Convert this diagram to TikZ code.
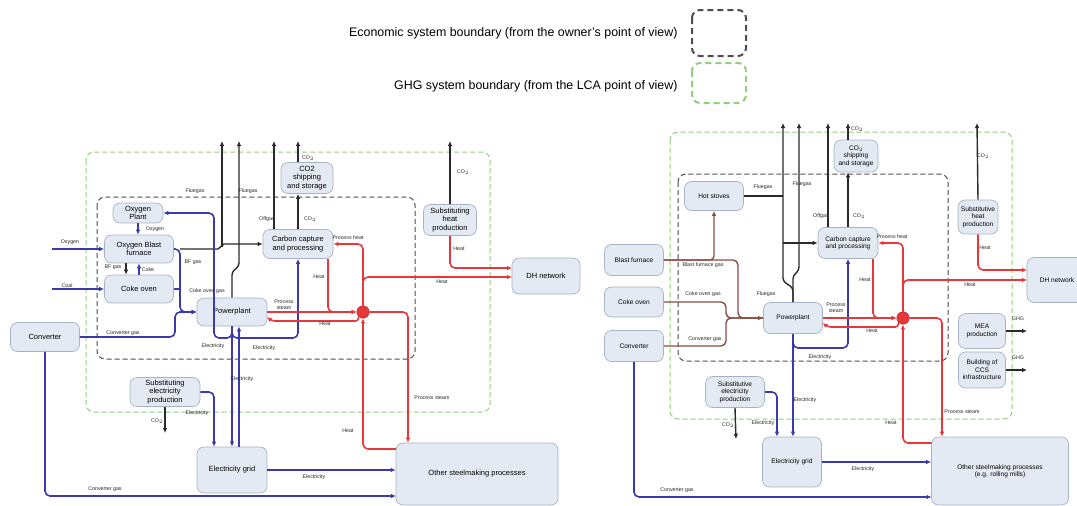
\documentclass[tikz,border=0pt]{standalone}
\usepackage{fontspec}
\setmainfont{Liberation Sans}
\usetikzlibrary{arrows.meta,positioning}

\definecolor{nodefill}{HTML}{E4EAF3}
\definecolor{nodeline}{HTML}{A8B3C3}
\definecolor{elblue}{HTML}{3A3AAE}
\definecolor{heatred}{HTML}{E8373A}
\definecolor{gasbrown}{HTML}{8A4B40}
\definecolor{ghggreen}{HTML}{8FD07A}
\definecolor{ecogray}{HTML}{4D4D4D}
\definecolor{gasblack}{HTML}{2A2A2A}

\newcommand{\boxfontL}{\fontsize{7.5}{8.3}\selectfont}
\newcommand{\boxfontR}{\fontsize{6.6}{7.4}\selectfont}
\newcommand{\lblfont}{\fontsize{5.3}{6}\selectfont}
\newcommand{\legfont}{\fontsize{12.4}{14}\selectfont}

\begin{document}
\begin{tikzpicture}[x=1pt,y=-1pt,>={Latex[length=5pt,width=4.6pt]}]
    % styles
    \tikzset{
        plant/.style={draw=nodeline, fill=nodefill, rounded corners=7pt, align=center, inner sep=1pt, line width=0.7pt},
        plantL/.style={plant, font=\boxfontL},
        plantR/.style={plant, font=\boxfontR},
        lbl/.style={font=\lblfont, inner sep=0pt, align=center, text=black!85},
        junction/.style={circle, fill=heatred, draw=heatred!70!black, minimum size=12.5pt, inner sep=0pt},
        elec/.style={draw=elblue, line width=1.6pt},
        heat/.style={draw=heatred, line width=1.6pt},
        flue/.style={draw=gasblack, line width=1.4pt},
        bfgas/.style={draw=gasbrown, line width=1.4pt},
        ecobound/.style={draw=ecogray, dash pattern=on 5pt off 3pt, line width=1pt, rounded corners=8pt},
        ghgbound/.style={draw=ghggreen, dash pattern=on 5pt off 3pt, line width=1pt, rounded corners=8pt},
    }

    \useasboundingbox (0,0) rectangle (1077,506);

    % legend
    \node[font=\legfont, anchor=east] (legeco) at (681,33) {Economic system boundary (from the owner's point of view)};
    \node[font=\legfont, anchor=east] (legghg) at (681,86) {GHG system boundary (from the LCA point of view)};
    \draw[ecobound, line width=2pt, dash pattern=on 6pt off 4pt] (692,10) rectangle (746,56);
    \draw[ghgbound, line width=2pt, dash pattern=on 6pt off 4pt] (692,63) rectangle (746,103);

    % stack outlets at the top
    \foreach \n/\x in {L1/222, L2/239, L3/274, L4/298, L5/450}
        \coordinate (out\n) at (\x,141);
    \foreach \n/\x in {R1/783, R2/799, R3/828, R4/848, R5/977}
        \coordinate (out\n) at (\x,123);

    %%%%%%%%%%%%%%%% left: oxygen blast furnace case %%%%%%%%%%%%%%%%
    \draw[ghgbound] (86,152) rectangle (490,412);
    \draw[ecobound] (97,197) rectangle (415,359);

    \node[plantL, minimum width=50pt, minimum height=20pt] (oxp) at (138,213) {Oxygen\\Plant};
    \node[plantL, minimum width=69pt, minimum height=28pt] (obf) at (139,249) {Oxygen Blast\\furnace};
    \node[plantL, minimum width=69pt, minimum height=28pt] (coke) at (139,289) {Coke oven};
    \node[plantL, minimum width=69pt, minimum height=29pt] (conv) at (45,337) {Converter};
    \node[plantL, minimum width=70pt, minimum height=28pt] (pp) at (232,312) {Powerplant};
    \node[plantL, minimum width=70pt, minimum height=29pt] (ccp) at (298,244) {Carbon capture\\and processing};
    \node[plantL, minimum width=52pt, minimum height=31pt] (ship) at (307,178) {CO2\\shipping\\and storage};
    \node[plantL, minimum width=53pt, minimum height=31pt] (sheat) at (450,220) {Substituting\\heat\\production};
    \node[plantL, minimum width=68pt, minimum height=36pt] (dh) at (546,276) {DH network};
    \node[plantL, minimum width=70pt, minimum height=29pt] (selec) at (165,392) {Substituting\\electricity\\production};
    \node[plantL, minimum width=70pt, minimum height=46pt] (grid) at (232,470) {Electricity grid};
    \node[plantL, minimum width=162pt, minimum height=62pt] (other) at (477,474) {Other steelmaking processes};
    \node[junction] (J) at (363,312) {};

    % feed streams
    \coordinate (oxin) at (52,249);
    \coordinate (coalin) at (52,289);
    \draw[elec,->] (oxin) -- (obf.west);
    \draw[elec,->] (coalin) -- (coke.west);
    \draw[elec,->] (oxp.south) -- (oxp.south |- obf.north);
    \draw[flue,->] ([xshift=-13]obf.south) -- ([xshift=-13]coke.north);
    \draw[elec,->] (coke.north) -- (obf.south);

    % gases to the powerplant
    \draw[elec,->,rounded corners=5pt] (obf.east) -| (180,300) |- (pp.west);
    \draw[elec,rounded corners=5pt] (coke.east) -- (180,289);
    \draw[elec,->,rounded corners=5pt] (conv.east) -- (175,337) |- (pp.west);

    % flue gas and CO2
    \coordinate (obfsplit) at (222,247);
    \draw[flue,->] (180,249) -- (218,249) -- (224,244) -- (ccp.west);
    \draw[flue,->] (obfsplit) -- (outL1);
    \draw[flue,->,rounded corners=3pt] (pp.north) -- (232,272) -- (239,266) -- (outL2);
    \draw[flue,->] (ccp.north -| outL3) -- (outL3);
    \draw[flue,->] (ccp.north) -- (ccp.north |- ship.south);
    \draw[flue,->] (ccp.north |- ship.north) -- (outL4);
    \draw[flue,->] (sheat.north) -- (outL5);

    % electricity
    \coordinate (ebus) at (232,338);
    \draw[elec,->,rounded corners=5pt] (pp.south) -- (ebus) -| (ccp.south);
    \draw[elec,->,rounded corners=5pt] (pp.south) -- (ebus) -- (214,338) |- (oxp.east);
    \draw[elec,->] (pp.south) -- (grid.north);
    \draw[elec,->] ([xshift=7]grid.north) -- ([xshift=7]pp.south);
    \draw[elec,->,rounded corners=5pt] (selec.east) -| ([xshift=-18]grid.north);
    \coordinate (selco2) at (165,433);
    \draw[flue,->] (selec.south) -- (selco2);
    \draw[elec,->] (grid.east) -- (grid.east -| other.west);
    \coordinate (cgasL) at (396,496);
    \draw[elec,->,rounded corners=5pt] (conv.south) |- (cgasL);

    % heat and steam
    \draw[heat,->,rounded corners=5pt] ([xshift=30]ccp.south) |- (J.west);
    \draw[heat,->,rounded corners=5pt] (J.north) |- (ccp.east);
    \coordinate (dhinL1) at (512,268);
    \coordinate (dhinL2) at (512,277);
    \draw[heat,->,rounded corners=5pt] (sheat.south) |- (dhinL1);
    \draw[heat,->,rounded corners=5pt] (J.north) |- (dhinL2);
    \draw[heat,->] (pp.east) -- (J.west);
    \coordinate (ppin) at (267,317);
    \draw[heat,->,rounded corners=3pt] (J.south west) |- (272,321) -- (ppin);
    \coordinate (othinL) at (396,449);
    \draw[heat,->,rounded corners=5pt] (othinL) -| (J.south);
    \draw[heat,->,rounded corners=5pt] (J.east) -| ([xshift=-69]other.north);

    % stream labels
    \foreach \x/\y/\t [count=\i] in {70/242/Oxygen, 67/286/Coal, 155/229/Oxygen, 113/267/BF gas,
        148/270/Coke, 193/262/BF gas, 207/291/Coke oven gas, 123/333/Converter gas,
        195/191/Fluegas, 248/191/Fluegas, 267/219/Offgas, 310/219/CO$_2$, 308/158/CO$_2$,
        463/172/CO$_2$, 319/277/Heat, 348/238/Process heat, 442/282/Heat, 459/249/Heat,
        284/305/{Process\\steam}, 325/324/Heat, 213/346/Electricity, 264/348/Electricity,
        242/379/Electricity, 197/413/Electricity, 157/421/CO$_2$, 314/477/Electricity,
        105/489/Converter gas, 348/431/Heat, 432/398/Process steam}
        \node[lbl] (labL\i) at (\x,\y) {\t};

    %%%%%%%%%%%%%%%% right: blast furnace case %%%%%%%%%%%%%%%%
    \draw[ghgbound] (670,132) rectangle (1012,419);
    \draw[ecobound] (678,174) rectangle (948,361);

    \node[plantR, minimum width=59pt, minimum height=29pt] (hs) at (714,196) {Hot stoves};
    \node[plantR, minimum width=59pt, minimum height=31pt] (bf) at (634,260) {Blast furnace};
    \node[plantR, minimum width=59pt, minimum height=30pt] (rcoke) at (634,302) {Coke oven};
    \node[plantR, minimum width=59pt, minimum height=31pt] (rconv) at (634,346) {Converter};
    \node[plantR, minimum width=59pt, minimum height=31pt] (rpp) at (793,318) {Powerplant};
    \node[plantR, minimum width=60pt, minimum height=31pt] (rccp) at (848,243) {Carbon capture\\and processing};
    \node[plantR, minimum width=44pt, minimum height=32pt] (rship) at (856,156) {CO$_2$\\shipping\\and storage};
    \node[plantR, minimum width=40pt, minimum height=34pt] (rsheat) at (978,217) {Substitutive\\heat\\production};
    \node[plantR, minimum width=60pt, minimum height=45pt] (rdh) at (1057,280) {DH network};
    \node[plantR, minimum width=47pt, minimum height=35pt] (rmea) at (982,331) {MEA\\production};
    \node[plantR, minimum width=47pt, minimum height=36pt] (rbuild) at (982,370) {Building of\\CCS\\infrastructure};
    \node[plantR, minimum width=59pt, minimum height=31pt] (rselec) at (735,392) {Substitutive\\electricity\\production};
    \node[plantR, minimum width=59pt, minimum height=50pt] (rgrid) at (792,462) {Electricity grid};
    \node[plantR, minimum width=137pt, minimum height=68pt] (rother) at (1000,471) {Other steelmaking processes\\(e.g. rolling mills)};
    \node[junction] (rJ) at (903,318) {};

    % process gases
    \draw[bfgas,->,rounded corners=4pt] (bf.east) -| (hs.south);
    \draw[bfgas,->,rounded corners=5pt] (bf.east) -- (738,260) |- (rpp.west);
    \draw[bfgas,rounded corners=5pt] (rcoke.east) -- (726,302) |- (rpp.west);
    \draw[bfgas,rounded corners=5pt] (rconv.east) -- (726,346) |- (rpp.west);

    % flue gas and CO2
    \coordinate (hsjoin) at (783,196);
    \draw[flue] (hs.east) -- (hsjoin);
    \draw[flue,->,rounded corners=3pt] (rpp.north) -- (793,288) -- (783,281) -- (outR1);
    \draw[flue,->,rounded corners=3pt] (rpp.north) -- (793,276) -- (799,270) -- (outR2);
    \draw[flue,->] (rccp.west -| outR1) -- (rccp.west);
    \draw[flue,->] (rccp.north -| outR3) -- (outR3);
    \draw[flue,->] (rccp.north) -- (rccp.north |- rship.south);
    \draw[flue,->] (rccp.north |- rship.north) -- (outR4);
    \draw[flue,->] (rsheat.north) -- (outR5);
    \coordinate (ghg1) at (1027,331);
    \coordinate (ghg2) at (1027,370);
    \draw[flue,->] (rmea.east) -- (ghg1);
    \draw[flue,->] (rbuild.east) -- (ghg2);

    % electricity
    \coordinate (rebus) at (793,348);
    \draw[elec,->,rounded corners=5pt] (rpp.south) -- (rebus) -| (rccp.south);
    \draw[elec,->] (rpp.south) -- (rpp.south |- rgrid.north);
    \draw[elec,->,rounded corners=5pt] (rselec.east) -| ([xshift=-15]rgrid.north);
    \coordinate (rselco2) at (736,439);
    \draw[flue,->] (rselec.south) -- (rselco2);
    \draw[elec,->] (rgrid.east) -- (rgrid.east -| rother.west);
    \coordinate (cgasR) at (931.5,497);
    \draw[elec,->,rounded corners=5pt] (rconv.south) |- (cgasR);

    % heat and steam
    \draw[heat,->,rounded corners=5pt] ([xshift=25]rccp.south) |- (rJ.west);
    \draw[heat,->,rounded corners=5pt] (rJ.north) |- (rccp.east);
    \coordinate (dhinR1) at (1027,270);
    \coordinate (dhinR2) at (1027,280);
    \draw[heat,->,rounded corners=5pt] (rsheat.south) |- (dhinR1);
    \draw[heat,->,rounded corners=5pt] (rJ.north) |- (dhinR2);
    \draw[heat,->] (rpp.east) -- (rJ.west);
    \coordinate (rppin) at (822.5,323);
    \draw[heat,->,rounded corners=3pt] (rJ.south west) |- (828,327) -- (rppin);
    \coordinate (rothin) at (931.5,443);
    \draw[heat,->,rounded corners=5pt] (rothin) -| (rJ.south);
    \draw[heat,->,rounded corners=5pt] (rJ.east) -| ([xshift=-58]rother.north);

    % stream labels
    \foreach \x/\y/\t [count=\i] in {703/265/Blast furnace gas, 703/294/Coke oven gas, 705/339/Converter gas,
        763/187/Fluegas, 802/184/Fluegas, 766/294/Fluegas, 821/216/Offgas, 859/216/CO$_2$,
        857/129/CO$_2$, 983/156/CO$_2$, 865/280/Heat, 892/237/Process heat, 970/285/Heat,
        985/248/Heat, 836/308/{Process\\steam}, 872/331/Heat, 820/357/Electricity,
        805/400/Electricity, 763/423/Electricity, 728/425/CO$_2$, 863/469/Electricity,
        677/490/Converter gas, 891/423/Heat, 962/412/Process steam, 1018/319/GHG, 1018/358/GHG}
        \node[lbl] (labR\i) at (\x,\y) {\t};
\end{tikzpicture}
\end{document}
